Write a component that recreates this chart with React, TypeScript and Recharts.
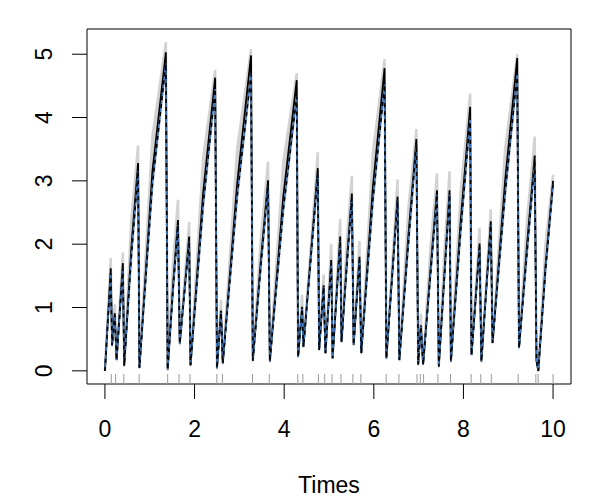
import React from 'react';
import { ComposedChart, Area, Line, XAxis, YAxis, ReferenceLine, ReferenceArea, Label } from 'recharts';

// corners of the sawtooth path (peak just before an event, trough right after)
const VERTEX_TIMES = [
  0.0, 0.13, 0.16, 0.22, 0.26, 0.40, 0.43, 0.59, 0.74, 0.77,
  1.06, 1.36, 1.40, 1.52, 1.63, 1.67, 1.88, 1.91, 2.19, 2.46,
  2.50, 2.59, 2.63, 2.95, 3.26, 3.30, 3.48, 3.64, 3.68, 3.98,
  4.28, 4.31, 4.40, 4.43, 4.75, 4.78, 4.88, 4.92, 5.05, 5.08,
  5.25, 5.28, 5.40, 5.51, 5.55, 5.68, 5.72, 5.98, 6.24, 6.28,
  6.53, 6.57, 6.77, 6.95, 6.99, 7.05, 7.10, 7.27, 7.41, 7.45,
  7.58, 7.69, 7.72, 7.94, 8.15, 8.18, 8.36, 8.40, 8.61, 8.65,
  8.93, 9.20, 9.24, 9.42, 9.59, 9.63, 9.67, 9.83, 10.0,
];
const ESTIMATE = [
  0.0, 1.62, 0.41, 0.91, 0.17, 1.70, 0.08, 1.95, 3.28, 0.05,
  3.15, 5.03, 0.02, 1.35, 2.38, 0.43, 2.12, 0.09, 2.80, 4.63,
  0.04, 0.95, 0.12, 2.95, 4.98, 0.16, 1.75, 3.01, 0.15, 2.75,
  4.59, 0.22, 1.01, 0.38, 3.20, 0.33, 1.35, 0.28, 1.75, 0.20,
  2.12, 0.46, 1.75, 2.80, 0.41, 1.80, 0.28, 2.91, 4.78, 0.20,
  2.75, 0.17, 2.12, 3.66, 0.10, 0.72, 0.10, 1.65, 2.85, 0.07,
  1.60, 2.85, 0.15, 2.38, 4.17, 0.25, 2.01, 0.15, 2.36, 0.44,
  3.00, 4.94, 0.36, 2.00, 3.40, 0.16, 0.0, 1.65, 3.00,
];
const TRUTH = [
  0.0, 1.55, 0.40, 0.88, 0.17, 1.62, 0.08, 1.82, 3.15, 0.05,
  2.95, 4.85, 0.02, 1.28, 2.30, 0.43, 2.05, 0.09, 2.60, 4.45,
  0.04, 0.92, 0.12, 2.75, 4.68, 0.16, 1.66, 2.92, 0.15, 2.55,
  4.33, 0.22, 0.98, 0.38, 3.10, 0.33, 1.32, 0.28, 1.70, 0.20,
  2.05, 0.46, 1.68, 2.72, 0.41, 1.75, 0.28, 2.70, 4.52, 0.20,
  2.68, 0.17, 2.00, 3.58, 0.10, 0.70, 0.10, 1.56, 2.78, 0.07,
  1.53, 2.78, 0.15, 2.22, 4.00, 0.25, 1.95, 0.15, 2.30, 0.44,
  2.80, 4.70, 0.36, 1.88, 3.30, 0.16, 0.0, 1.58, 2.95,
];
const LOWER = [
  0.0, 1.50, 0.38, 0.85, 0.15, 1.58, 0.06, 1.72, 3.10, 0.03,
  2.88, 4.80, 0.0, 1.22, 2.22, 0.40, 2.00, 0.07, 2.52, 4.40,
  0.02, 0.88, 0.10, 2.68, 4.65, 0.14, 1.60, 2.85, 0.13, 2.48,
  4.30, 0.20, 0.95, 0.36, 3.02, 0.31, 1.28, 0.26, 1.65, 0.18,
  2.00, 0.44, 1.62, 2.65, 0.39, 1.70, 0.26, 2.62, 4.50, 0.18,
  2.60, 0.15, 1.95, 3.50, 0.08, 0.66, 0.08, 1.52, 2.70, 0.05,
  1.48, 2.70, 0.13, 2.16, 3.95, 0.23, 1.90, 0.13, 2.22, 0.42,
  2.72, 4.65, 0.34, 1.83, 3.22, 0.14, -0.02, 1.52, 2.88,
];
const UPPER = [
  0.0, 1.78, 0.45, 1.05, 0.20, 1.87, 0.10, 2.40, 3.56, 0.07,
  3.70, 5.19, 0.04, 1.70, 2.70, 0.47, 2.35, 0.11, 3.35, 4.75,
  0.06, 1.12, 0.14, 3.50, 5.08, 0.18, 2.10, 3.30, 0.17, 3.30,
  4.70, 0.24, 1.20, 0.40, 3.45, 0.35, 1.52, 0.30, 2.00, 0.22,
  2.40, 0.48, 2.10, 3.08, 0.43, 2.05, 0.30, 3.45, 4.92, 0.22,
  3.02, 0.19, 2.55, 3.82, 0.12, 0.90, 0.12, 2.00, 3.12, 0.09,
  1.95, 3.15, 0.17, 2.85, 4.38, 0.27, 2.26, 0.17, 2.55, 0.46,
  3.50, 5.00, 0.38, 2.40, 3.70, 0.18, 0.02, 2.00, 3.10,
];

const EVENT_TIMES = [
  0.142, 0.238, 0.422, 0.764, 1.40, 1.653, 1.898, 2.498, 2.622, 3.293,
  3.667, 4.304, 4.416, 4.764, 4.904, 5.067, 5.267, 5.533, 5.711, 6.276,
  6.56, 6.964, 7.038, 7.111, 7.431, 7.711, 8.171, 8.387, 8.622, 9.222,
  9.616, 9.667, 10.0,
];

const X_TICKS = [0, 2, 4, 6, 8, 10];
const Y_TICKS = [0, 1, 2, 3, 4, 5];

const X_MIN = -0.4;
const X_MAX = 10.4;
const Y_MIN = -0.208;
const Y_MAX = 5.398;
const RUG_TOP = -0.05;

const FONT = '"Liberation Sans", Arial, Helvetica, sans-serif';
const FS = 23;

const rows = VERTEX_TIMES.map((t, i) => ({
  t,
  est: ESTIMATE[i],
  truth: TRUTH[i],
  lo: LOWER[i],
  hi: UPPER[i],
  band: [LOWER[i], UPPER[i]],
}));

const XTick = (props: any) => {
  const { x, y, payload } = props;
  return (
    <text x={x} y={y + 36} textAnchor="middle" fontSize={FS} fontFamily={FONT} fill="#000">
      {payload.value}
    </text>
  );
};

const YTick = (props: any) => {
  const { x, y, payload } = props;
  const bx = x - 18;
  return (
    <text
      x={bx}
      y={y}
      transform={`rotate(-90 ${bx} ${y})`}
      textAnchor="middle"
      fontSize={FS}
      fontFamily={FONT}
      fill="#000"
    >
      {payload.value}
    </text>
  );
};

export default function App() {
  return (
    <div style={{ position: 'absolute', left: 0, top: 0, width: 600, height: 500, background: '#fff' }}>
      <ComposedChart
        width={600}
        height={500}
        data={rows}
        margin={{ top: 29, right: 29, bottom: 0, left: 0 }}
        style={{ fontFamily: FONT }}
      >
        <XAxis
          dataKey="t"
          type="number"
          domain={[X_MIN, X_MAX]}
          ticks={X_TICKS}
          allowDataOverflow
          height={116}
          axisLine={false}
          tickSize={15}
          tickLine={{ stroke: '#000' }}
          tick={<XTick />}
        >
          <Label value="Times" position="insideBottom" offset={7} fontSize={FS} fill="#000" fontFamily={FONT} />
        </XAxis>
        <YAxis
          type="number"
          domain={[Y_MIN, Y_MAX]}
          ticks={Y_TICKS}
          allowDataOverflow
          width={87}
          axisLine={false}
          tickSize={15}
          tickLine={{ stroke: '#000' }}
          tick={<YTick />}
        />

        {/* grey confidence band */}
        <Area
          dataKey="band"
          type="linear"
          stroke="none"
          fill="#d2d2d2"
          fillOpacity={1}
          dot={false}
          activeDot={false}
          isAnimationActive={false}
        />
        <Line dataKey="hi" type="linear" stroke="#d2d2d2" strokeWidth={2.5} dot={false} activeDot={false} isAnimationActive={false} />
        <Line dataKey="lo" type="linear" stroke="#dadada" strokeWidth={2} dot={false} activeDot={false} isAnimationActive={false} />

        <Line dataKey="est" type="linear" stroke="#000" strokeWidth={1.8} dot={false} activeDot={false} isAnimationActive={false} />
        <Line dataKey="truth" type="linear" stroke="#3f74b8" strokeWidth={1.6} dot={false} activeDot={false} isAnimationActive={false} />
        <Line
          dataKey="truth"
          type="linear"
          stroke="#000"
          strokeWidth={1.6}
          strokeDasharray="4 4"
          dot={false}
          activeDot={false}
          isAnimationActive={false}
        />

        {EVENT_TIMES.map((t) => (
          <ReferenceLine
            key={t}
            segment={[{ x: t, y: Y_MIN }, { x: t, y: RUG_TOP }]}
            stroke="#9a9a9a"
            strokeWidth={1}
            ifOverflow="visible"
          />
        ))}

        <ReferenceArea x1={X_MIN} x2={X_MAX} y1={Y_MIN} y2={Y_MAX} fill="none" stroke="#000" strokeWidth={1} ifOverflow="visible" />
      </ComposedChart>
    </div>
  );
}
